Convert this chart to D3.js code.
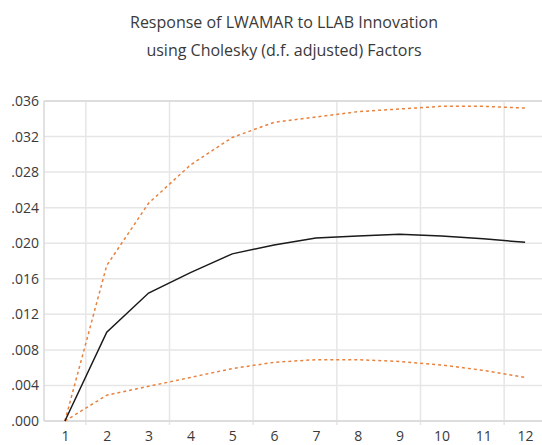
<!DOCTYPE html>
<html lang="en">
<head>
    <meta charset="UTF-8">
    <title>Response of LWAMAR to LLAB Innovation</title>
    <script src="https://cdn.jsdelivr.net/npm/d3@7"></script>
    <style>
        body {
            margin: 0;
            background-color: #fff;
        }

        svg text {
            font-family: "Open Sans", sans-serif;
            fill: #3a3a3a;
        }

        .grid line {
            stroke: #e6e6e6;
            stroke-width: 1.5;
        }
    </style>
</head>
<body>
    <script>
        const periods = [1, 2, 3, 4, 5, 6, 7, 8, 9, 10, 11, 12];
        const response = [0.0000, 0.0100, 0.0144, 0.0167, 0.0188, 0.0198, 0.0206, 0.0208, 0.0210, 0.0208, 0.0205, 0.0201];
        const upper = [0.0000, 0.0175, 0.0245, 0.0288, 0.0319, 0.0336, 0.0342, 0.0348, 0.0351, 0.0354, 0.0354, 0.0352];
        const lower = [0.0000, 0.0029, 0.0039, 0.0049, 0.0059, 0.0066, 0.0069, 0.0069, 0.0067, 0.0063, 0.0057, 0.0049];
        const yTicks = [0, 0.004, 0.008, 0.012, 0.016, 0.020, 0.024, 0.028, 0.032, 0.036];
        const titleLines = ['Response of LWAMAR to LLAB Innovation', 'using Cholesky (d.f. adjusted) Factors'];

        const w = 542;
        const h = 445;
        const margin = { top: 101, right: 0, bottom: 24, left: 44 };

        const svg = d3.select('body')
            .append('svg')
            .attr('width', w)
            .attr('height', h);

        const xScale = d3.scaleLinear([0.5, 12.5], [margin.left, 546]);
        const yScale = d3.scaleLinear([0, 0.036], [h - margin.bottom, margin.top]);

        // title
        svg.append('g')
            .selectAll('text')
            .data(titleLines)
            .enter()
            .append('text')
            .attr('x', 284)
            .attr('y', (d, i) => 28 + i * 28)
            .attr('text-anchor', 'middle')
            .style('font-size', '16px')
            .text(d => d);

        // horizontal grid
        svg.append('g')
            .attr('class', 'grid')
            .selectAll('line')
            .data(yTicks)
            .enter()
            .append('line')
            .attr('x1', margin.left)
            .attr('x2', w)
            .attr('y1', d => yScale(d))
            .attr('y2', d => yScale(d));

        // vertical grid, between periods
        const xGrid = [1.5, 3.5, 5.5, 7.5, 9.5, 11.5];
        svg.append('g')
            .attr('class', 'grid')
            .selectAll('line')
            .data(xGrid)
            .enter()
            .append('line')
            .attr('x1', d => xScale(d))
            .attr('x2', d => xScale(d))
            .attr('y1', margin.top)
            .attr('y2', h - margin.bottom + 4);

        // frame
        svg.append('line')
            .attr('x1', margin.left).attr('x2', margin.left)
            .attr('y1', margin.top).attr('y2', h - margin.bottom)
            .attr('stroke', '#d9d9d9').attr('stroke-width', 1.5);
        svg.append('line')
            .attr('x1', margin.left).attr('x2', w)
            .attr('y1', margin.top).attr('y2', margin.top)
            .attr('stroke', '#d9d9d9').attr('stroke-width', 1.5);
        svg.append('line')
            .attr('x1', margin.left).attr('x2', w)
            .attr('y1', h - margin.bottom).attr('y2', h - margin.bottom)
            .attr('stroke', '#d9d9d9').attr('stroke-width', 1.5);

        const yAxis = d3.axisLeft(yScale)
            .tickValues(yTicks)
            .tickSize(0)
            .tickPadding(5)
            .tickFormat(d => d3.format('.3f')(d).replace(/^0/, ''));
        svg.append('g')
            .attr('transform', `translate(${margin.left}, 0)`)
            .call(yAxis)
            .call(g => g.select('.domain').remove())
            .selectAll('text')
            .style('font-size', '14px');

        const xAxis = d3.axisBottom(xScale)
            .tickValues(periods)
            .tickSize(0)
            .tickPadding(10)
            .tickFormat(d3.format('d'));
        svg.append('g')
            .attr('transform', `translate(0, ${h - margin.bottom})`)
            .call(xAxis)
            .call(g => g.select('.domain').remove())
            .selectAll('text')
            .style('font-size', '14px');

        const line = d3.line()
            .x((d, i) => xScale(periods[i]))
            .y(d => yScale(d));

        [upper, lower].forEach(series => {
            svg.append('path')
                .datum(series)
                .attr('fill', 'none')
                .attr('stroke', '#e8823e')
                .attr('stroke-width', 1.5)
                .attr('stroke-dasharray', '3,3')
                .attr('d', line);
        });

        svg.append('path')
            .datum(response)
            .attr('fill', 'none')
            .attr('stroke', '#1a1a1a')
            .attr('stroke-width', 1.5)
            .attr('d', line);
    </script>
</body>
</html>
